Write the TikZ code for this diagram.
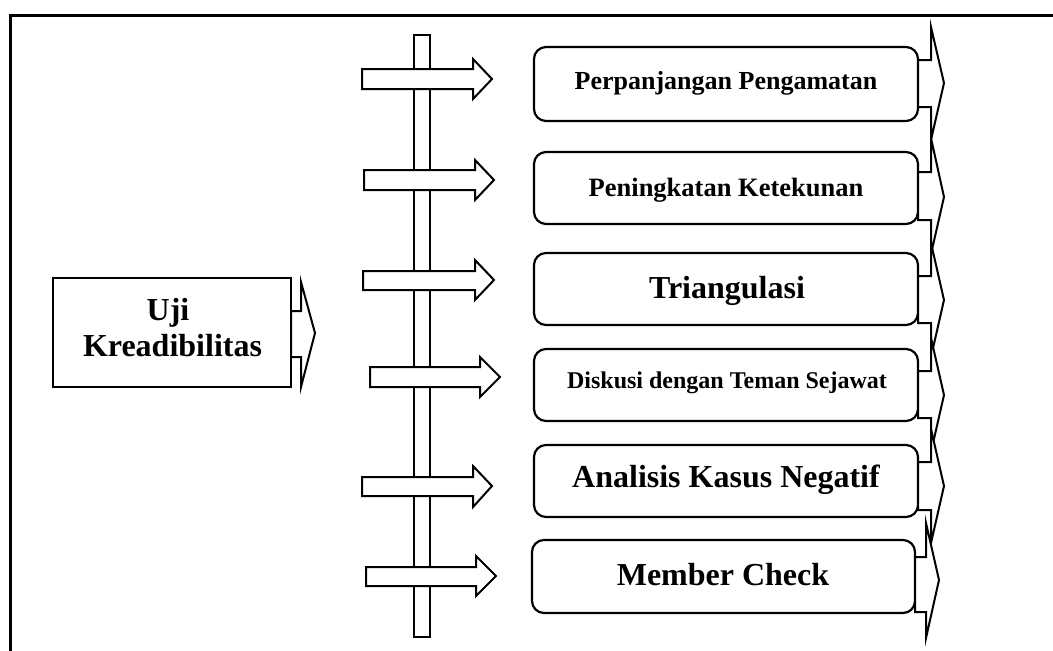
\documentclass[tikz,border=0pt]{standalone}
\usepackage{fontspec}
\setmainfont{Liberation Serif}
\newcommand{\blkarrow}[8]{%
  \draw[barrow] (#1,#2) -- (#4,#2) -- (#4,#5) -- (#7,#8) -- (#4,#6) -- (#4,#3) -- (#1,#3) -- cycle;}
\newcommand{\fs}[1]{\bfseries\fontsize{#1}{#1}\selectfont}
\begin{document}
\begin{tikzpicture}[x=1pt,y=-1pt,
  frame/.style={line width=3pt},
  rbox/.style={draw, line width=2.2pt, rounded corners=12pt, fill=white, inner sep=0pt},
  sbox/.style={draw, line width=2.2pt, fill=white, inner sep=0pt},
  barrow/.style={draw, line width=2pt, fill=white, line join=miter},
  vbar/.style={draw, line width=2pt, fill=white, inner sep=0pt},
  lbl/.style={anchor=base, inner sep=0pt}]
\useasboundingbox (0,0) rectangle (1053,651);
% outer frame
\draw[frame] (10,651) -- (10,15) -- (1053,15);
% vertical bar
\node[vbar, minimum width=16pt, minimum height=602pt] (bar) at (422,336) {};
% left block arrows
\blkarrow{362}{69}{89}{473}{59}{99}{492}{79}
\blkarrow{364}{170}{190}{475}{160}{200}{494}{180}
\blkarrow{363}{271}{290}{475}{260}{300}{494}{280}
\blkarrow{370}{367}{387}{480}{357}{397}{500}{377}
\blkarrow{362}{477}{496}{473}{466}{507}{492}{486}
\blkarrow{366}{567}{586}{476}{556}{596}{496}{576}
% left box
\node[sbox, minimum width=238pt, minimum height=109pt] (uji) at (172,332.5) {};
\node[lbl, font=\fs{32}] (tuji) at (168,320) {Uji};
\node[lbl, font=\fs{32}] (tkre) at (172.5,356) {Kreadibilitas};
\blkarrow{291}{311}{357}{301}{282}{387}{315}{333}
% rounded boxes
\node[rbox, minimum width=384pt, minimum height=74pt] (b1) at (726,84) {};
\node[rbox, minimum width=384pt, minimum height=72pt] (b2) at (726,188) {};
\node[rbox, minimum width=384pt, minimum height=72pt] (b3) at (726,289) {};
\node[rbox, minimum width=384pt, minimum height=72pt] (b4) at (726,385) {};
\node[rbox, minimum width=384pt, minimum height=72pt] (b5) at (726,481) {};
\node[rbox, minimum width=383pt, minimum height=73pt] (b6) at (723.5,576.5) {};
\node[lbl, font=\fs{26}] (t1) at (726,89) {Perpanjangan Pengamatan};
\node[lbl, font=\fs{26.5}] (t2) at (726,196) {Peningkatan Ketekunan};
\node[lbl, font=\fs{32}] (t3) at (727,298) {Triangulasi};
\node[lbl, font=\fs{24}] (t4) at (727,388) {Diskusi dengan Teman Sejawat};
\node[lbl, font=\fs{32}] (t5) at (726,487) {Analisis Kasus Negatif};
\node[lbl, font=\fs{32}] (t6) at (723,585) {Member Check};
% right block arrows
\blkarrow{918}{60}{107}{931}{27}{140}{944}{83}
\blkarrow{918}{172}{220}{931}{138}{254}{944}{197}
\blkarrow{918}{276}{323}{931}{243}{357}{944}{300}
\blkarrow{918}{371}{418}{931}{338}{452}{944}{395}
\blkarrow{918}{462}{510}{931}{429}{543}{944}{486}
\blkarrow{915}{557}{612}{926}{523}{638}{939}{580}
\end{tikzpicture}
\end{document}
